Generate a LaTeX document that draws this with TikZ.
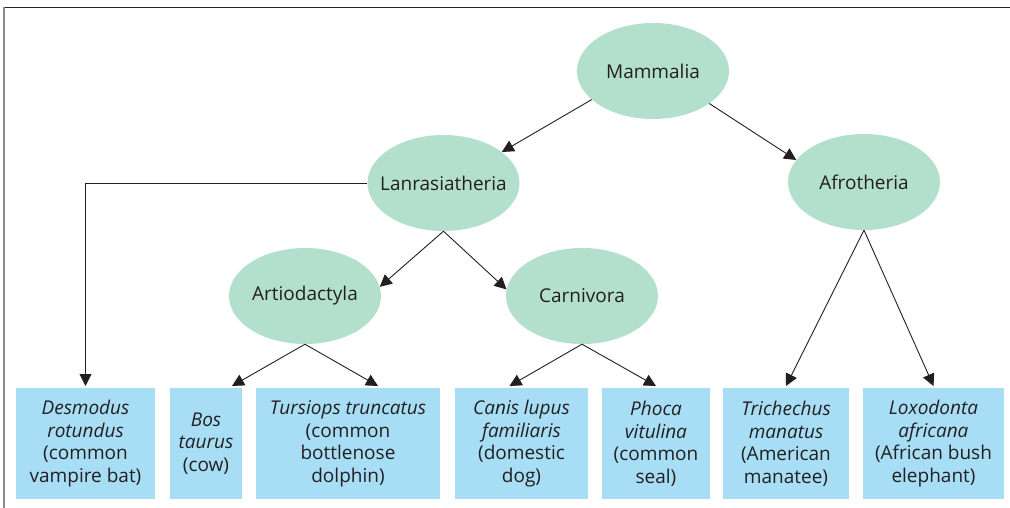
\documentclass[tikz,border=0pt]{standalone}
\usepackage{fontspec}
\setmainfont{Open Sans}
\usetikzlibrary{shapes.geometric,arrows.meta}

\definecolor{cladegreen}{HTML}{B3DFCD}
\definecolor{speciesblue}{HTML}{A7DEF6}
\definecolor{inkgrey}{HTML}{231F20}

\tikzset{
  clade/.style={ellipse, fill=cladegreen, inner xsep=-12pt, inner ysep=0pt,
    minimum width=152pt, minimum height=96pt, text=inkgrey,
    font=\fontsize{19}{22}\selectfont},
  species/.style={rectangle, fill=speciesblue, inner sep=0pt,
    minimum height=111pt, anchor=north, align=center, text=inkgrey,
    font=\fontsize{19}{22.5}\selectfont},
  link/.style={draw=inkgrey, line width=0.9pt,
    -{Triangle[length=12pt,width=12pt]}}
}

\begin{document}
\begin{tikzpicture}[x=1pt, y=-1pt]
  \useasboundingbox (0,0) rectangle (1010,508);

  % Frame
  \draw[black!85, line width=1.3pt] (3,7.5) -- (1010,7.5);
  \draw[black!45, line width=2pt] (4,7) -- (4,508);

  % Clades
  \node[clade] (mam) at (653,71) {Mammalia};
  \node[clade] (lan) at (443.5,183) {Lanrasiatheria};
  \node[clade] (afr) at (864,182) {Afrotheria};
  \node[clade] (art) at (305,296) {Artiodactyla};
  \node[clade] (car) at (582,296) {Carnivora};

  % Species
  \def\boxtop{388}
  \node[species, minimum width=139pt] (desm) at (85.5,\boxtop)
    {\textit{Desmodus}\\\textit{rotundus}\\(common\\vampire bat)};
  \node[species, minimum width=72pt] (bos) at (206,\boxtop)
    {\textit{Bos}\\\textit{taurus}\\(cow)};
  \node[species, minimum width=184pt] (turs) at (348,\boxtop)
    {\textit{Tursiops truncatus}\\(common\\bottlenose\\dolphin)};
  \node[species, minimum width=133pt] (canis) at (521.5,\boxtop)
    {\textit{Canis lupus}\\\textit{familiaris}\\(domestic\\dog)};
  \node[species, minimum width=108pt] (phoca) at (656,\boxtop)
    {\textit{Phoca}\\\textit{vitulina}\\(common\\seal)};
  \node[species, minimum width=126pt] (trich) at (786,\boxtop)
    {\textit{Trichechus}\\\textit{manatus}\\(American\\manatee)};
  \node[species, minimum width=141pt] (lox) at (933.5,\boxtop)
    {\textit{Loxodonta}\\\textit{africana}\\(African bush\\elephant)};

  % Connectors
  \def\gap{2pt}
  \draw[link] (mam.205) -- (lan.28);
  \draw[link] (mam.330) -- (afr.162);
  \draw[link] (lan.west) -| ([yshift=\gap]desm.north);
  \draw[link] (lan.south) -- (art.7);
  \draw[link] (lan.south) -- (car.175);
  \draw[link] (art.south) -- ([xshift=26pt, yshift=\gap]bos.north);
  \draw[link] (art.south) -- ([xshift=30pt, yshift=\gap]turs.north);
  \draw[link] (car.south) -- ([xshift=-12pt, yshift=\gap]canis.north);
  \draw[link] (car.south) -- ([yshift=\gap]phoca.north);
  \draw[link] (afr.south) -- ([yshift=\gap]trich.north);
  \draw[link] (afr.south) -- ([yshift=\gap]lox.north);
\end{tikzpicture}
\end{document}
